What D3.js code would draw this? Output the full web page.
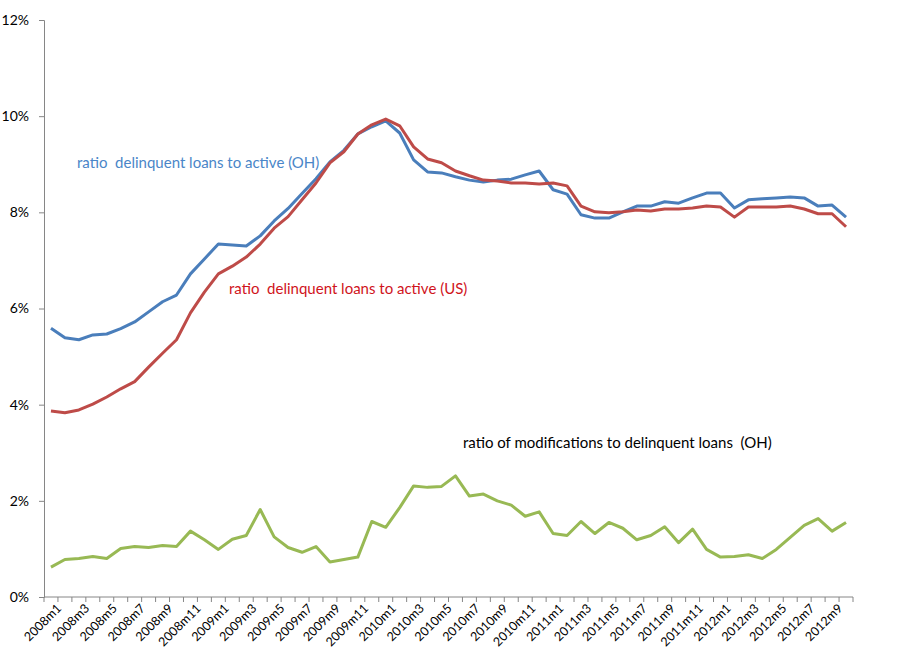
<!DOCTYPE html>
<html>
<head>
<meta charset="utf-8">
<script src="https://cdnjs.cloudflare.com/ajax/libs/d3/7.8.5/d3.min.js"></script>
<style>
  body { margin: 0; background: #fff; }
  text { font-family: Lato, "Open Sans", sans-serif; }
</style>
</head>
<body>
<div id="chart"></div>
<script>
// months 2008m1 .. 2012m10
var years = [2008, 2009, 2010, 2011, 2012],
	categories = []
years.forEach(function(yr) {
	for (var m = 1; m <= 12; m++) {
		if (yr === 2012 && m > 10) break
		categories.push(yr + 'm' + m)
	}
})

var delinqOH = [5.59, 5.39, 5.35, 5.45, 5.47, 5.58, 5.72, 5.93, 6.14, 6.28,
	6.72, 7.03, 7.34, 7.32, 7.30, 7.51, 7.82, 8.08, 8.39, 8.70,
	9.05, 9.29, 9.63, 9.78, 9.90, 9.65, 9.09, 8.84, 8.82, 8.74,
	8.67, 8.63, 8.67, 8.69, 8.78, 8.86, 8.47, 8.38, 7.95, 7.88,
	7.88, 8.01, 8.13, 8.13, 8.22, 8.19, 8.30, 8.40, 8.40, 8.09,
	8.26, 8.28, 8.30, 8.32, 8.30, 8.13, 8.15, 7.90]

var delinqUS = [3.87, 3.83, 3.89, 4.01, 4.16, 4.33, 4.48, 4.78, 5.07, 5.35,
	5.91, 6.34, 6.72, 6.88, 7.07, 7.34, 7.67, 7.91, 8.26, 8.61,
	9.03, 9.26, 9.63, 9.82, 9.94, 9.80, 9.36, 9.11, 9.03, 8.86,
	8.76, 8.67, 8.65, 8.61, 8.61, 8.59, 8.61, 8.55, 8.13, 8.01,
	7.99, 8.01, 8.05, 8.03, 8.07, 8.07, 8.09, 8.13, 8.11, 7.90,
	8.11, 8.11, 8.11, 8.13, 8.07, 7.97, 7.97, 7.70]

var modsOH = [0.62, 0.78, 0.80, 0.84, 0.80, 1.01, 1.05, 1.03, 1.07, 1.05,
	1.37, 1.19, 0.99, 1.20, 1.28, 1.82, 1.25, 1.03, 0.93, 1.05,
	0.73, 0.78, 0.83, 1.57, 1.45, 1.86, 2.31, 2.28, 2.30, 2.52,
	2.10, 2.14, 2.00, 1.91, 1.68, 1.77, 1.32, 1.28, 1.57, 1.32,
	1.55, 1.43, 1.19, 1.28, 1.46, 1.13, 1.41, 0.99, 0.83, 0.84,
	0.88, 0.80, 0.99, 1.24, 1.49, 1.63, 1.37, 1.55]

var yTicks = [0, 2, 4, 6, 8, 10, 12]

var series = [
	{name: 'ratio  delinquent loans to active (OH)', values: delinqOH, color: '#4a7ebb', label: '#4a86c8', lx: 77, ly: 168},
	{name: 'ratio  delinquent loans to active (US)', values: delinqUS, color: '#be4b48', label: '#d0141c', lx: 229, ly: 294},
	{name: 'ratio of modifications to delinquent loans  (OH)', values: modsOH, color: '#98b954', label: '#000', lx: 463, ly: 448}
]

var width = 910, height = 661,
	margins = {top: 20, right: 57, bottom: 64, left: 44}

var svg = d3.select('#chart').append('svg')
	.attr('width', width)
	.attr('height', height)

var x = d3.scaleBand()
	.domain(categories)
	.range([margins.left, width - margins.right])
	.padding(0)

var y = d3.scaleLinear()
	.domain([0, 12])
	.range([height - margins.bottom, margins.top])

var axisColor = '#868686'

// y axis
var yAxis = svg.append('g')
	.attr('transform', 'translate(' + margins.left + ',0)')
	.call(d3.axisLeft(y).tickValues(yTicks).tickSize(5).tickPadding(10)
		.tickFormat(function(d) { return d + '%' }))
yAxis.select('.domain').attr('stroke', axisColor)
yAxis.selectAll('.tick line').attr('stroke', axisColor)
yAxis.selectAll('.tick text')
	.attr('fill', '#000')
	.style('font-size', '14px')

// x axis, ticks between categories
var x0 = y(0)
var xAxis = svg.append('g')
xAxis.append('line')
	.attr('x1', x.range()[0]).attr('x2', x.range()[1])
	.attr('y1', x0).attr('y2', x0)
	.attr('stroke', axisColor)
xAxis.selectAll('line.tick')
	.data(categories.concat(['end']))
	.enter().append('line')
	.attr('class', 'tick')
	.attr('x1', function(d, i) { return x.range()[0] + i * x.bandwidth() })
	.attr('x2', function(d, i) { return x.range()[0] + i * x.bandwidth() })
	.attr('y1', x0).attr('y2', x0 + 5)
	.attr('stroke', axisColor)
xAxis.selectAll('text')
	.data(categories.filter(function(d, i) { return i % 2 === 0 }))
	.enter().append('text')
	.attr('transform', function(d) {
		return 'translate(' + (x(d) + x.bandwidth() / 2 + 5) + ',' + (x0 + 6) + ') rotate(-45)'
	})
	.attr('text-anchor', 'end')
	.attr('dy', '0.7em')
	.style('font-size', '12.5px')
	.attr('fill', '#000')
	.text(function(d) { return d })

// lines
var line = d3.line()
	.x(function(d, i) { return x(categories[i]) + x.bandwidth() / 2 })
	.y(function(d) { return y(d) })

svg.selectAll('path.series')
	.data(series)
	.enter().append('path')
	.attr('class', 'series')
	.attr('d', function(d) { return line(d.values) })
	.attr('fill', 'none')
	.attr('stroke', function(d) { return d.color })
	.attr('stroke-width', 3)
	.attr('stroke-linejoin', 'round')

svg.selectAll('text.label')
	.data(series)
	.enter().append('text')
	.attr('class', 'label')
	.attr('x', function(d) { return d.lx })
	.attr('y', function(d) { return d.ly })
	.attr('fill', function(d) { return d.label })
	.style('font-size', '15px')
	.style('white-space', 'pre')
	.text(function(d) { return d.name })
</script>
</body>
</html>
